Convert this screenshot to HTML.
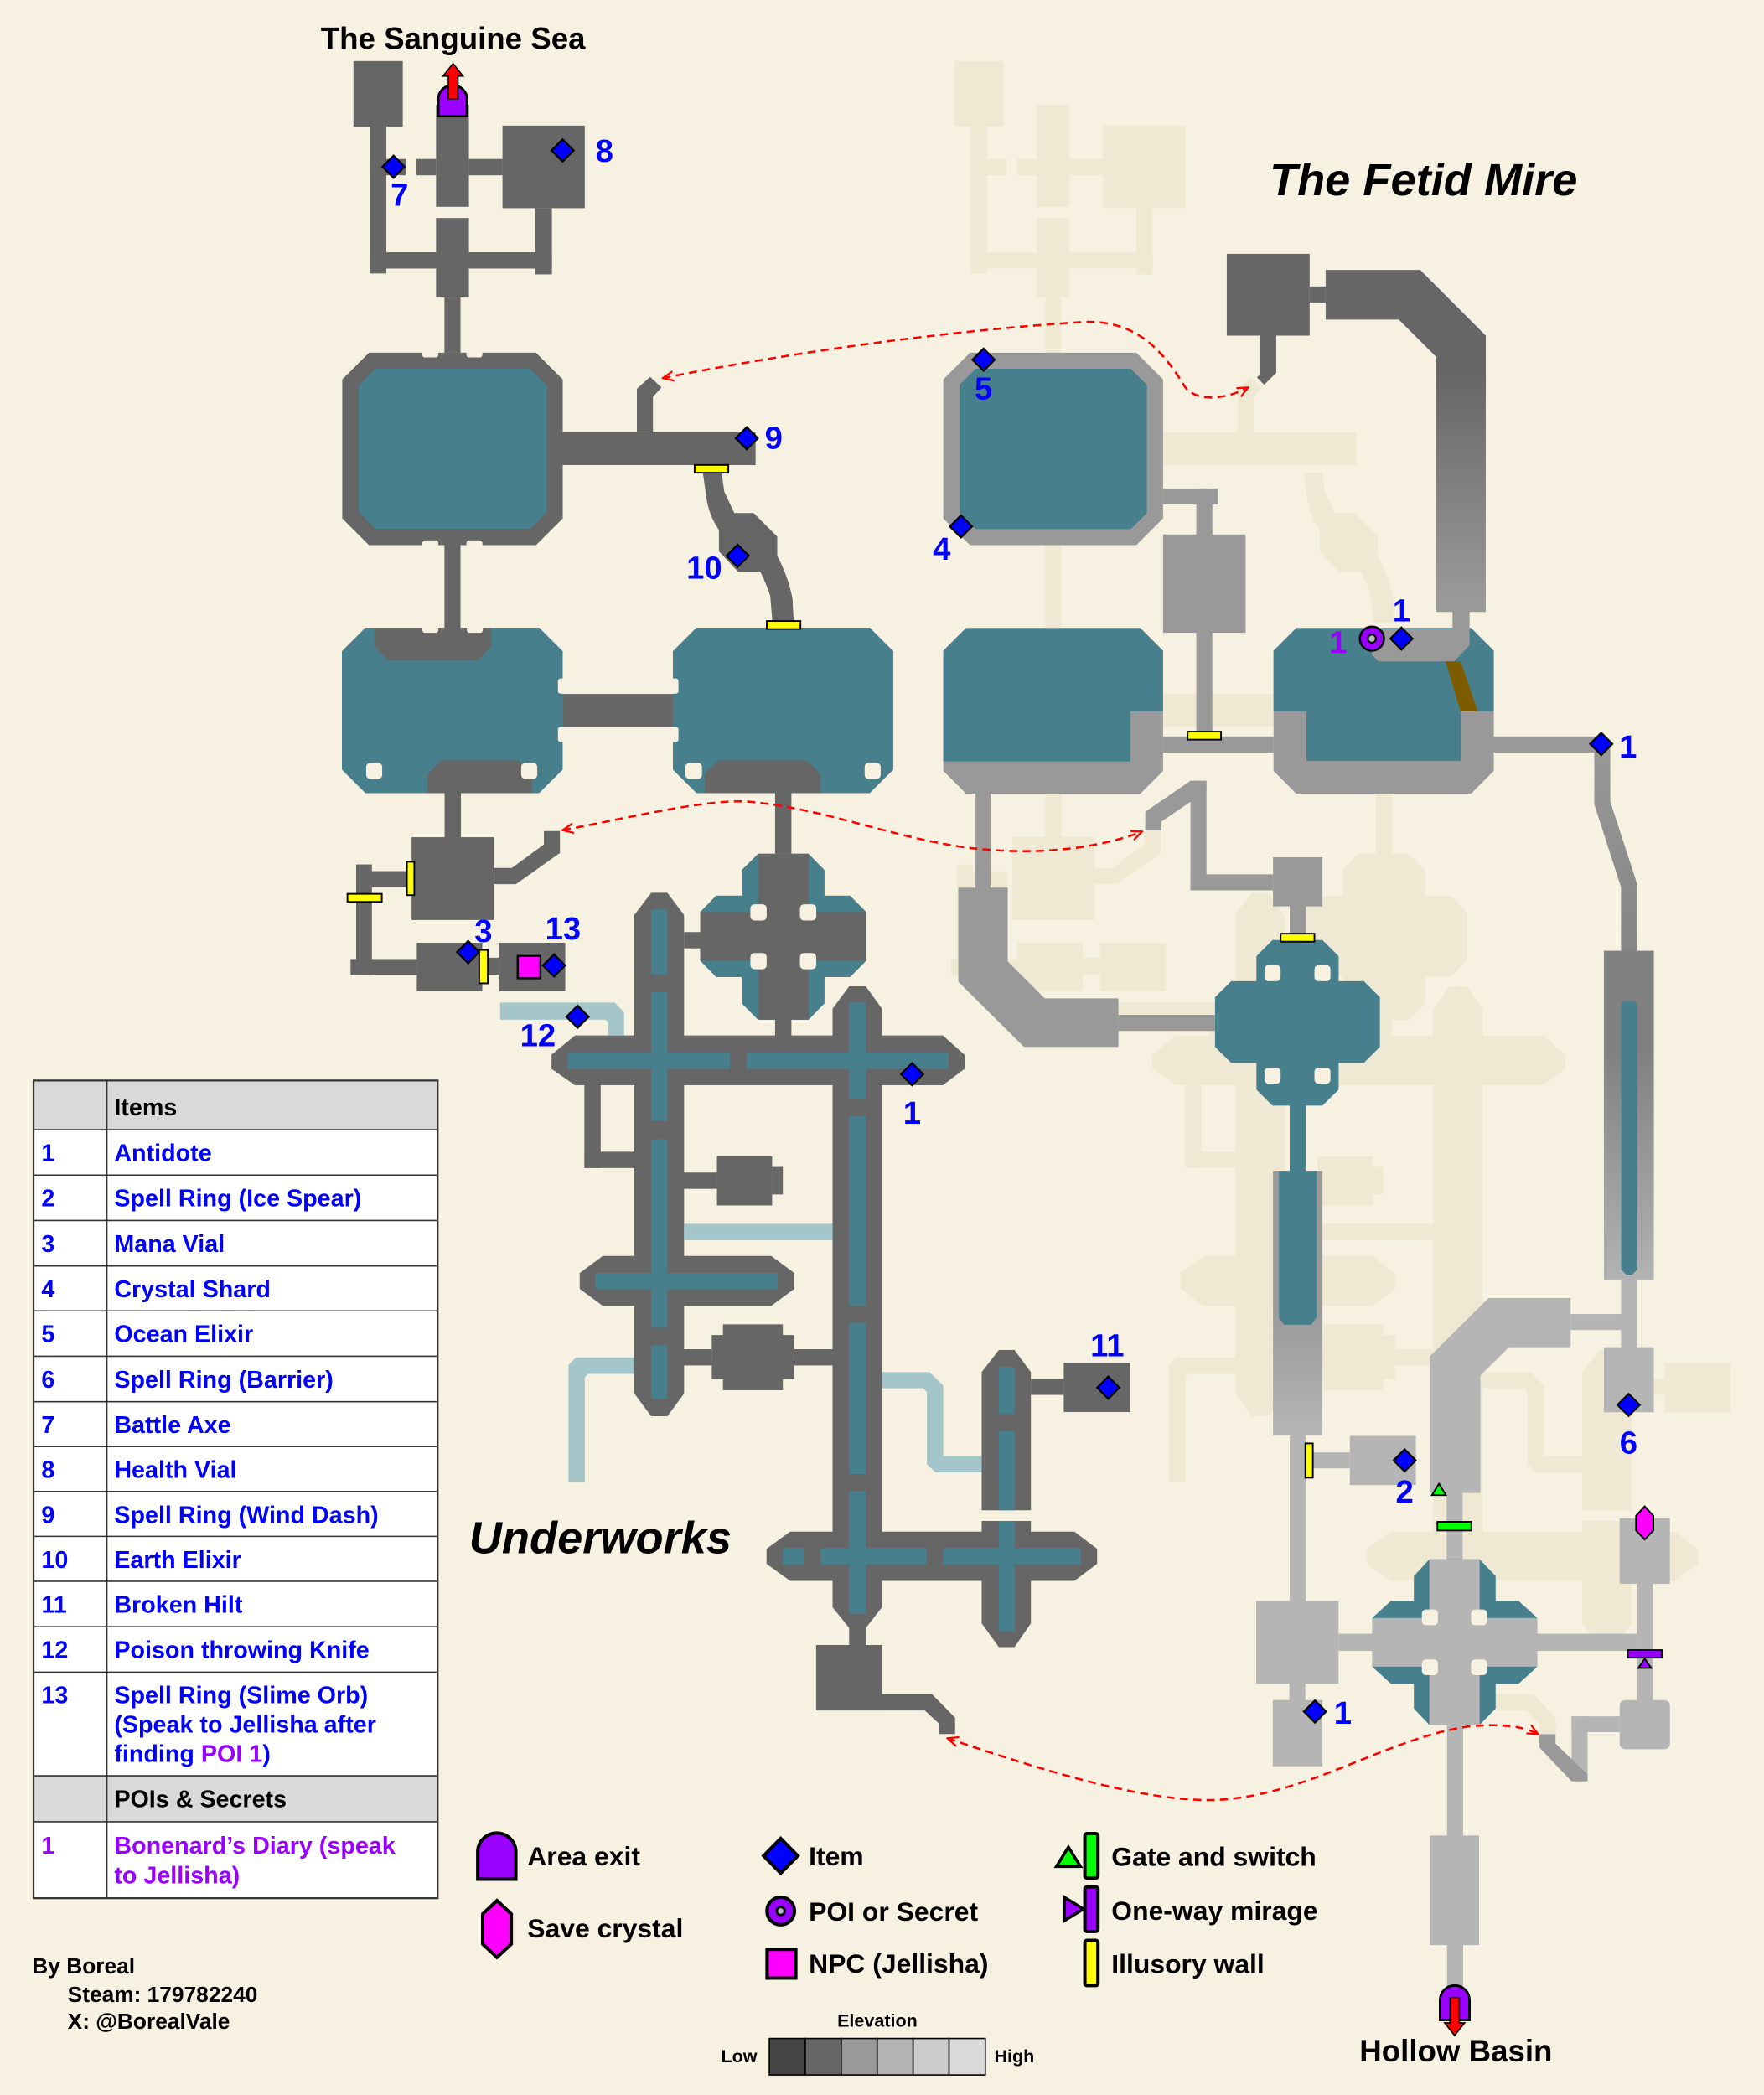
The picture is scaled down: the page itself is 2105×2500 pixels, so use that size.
<!DOCTYPE html>
<html><head><meta charset="utf-8"><style>html,body{margin:0;padding:0;background:#f7f1e1;}svg{display:block}</style></head>
<body>
<svg xmlns="http://www.w3.org/2000/svg" xmlns:xlink="http://www.w3.org/1999/xlink" width="2105" height="2500" viewBox="0 0 1320 1568" preserveAspectRatio="none" font-family="'Liberation Sans', Arial, sans-serif">
<defs>
<linearGradient id="gL" gradientUnits="userSpaceOnUse" x1="0" y1="202" x2="0" y2="458"><stop offset="0.3" stop-color="#666"/><stop offset="0.95" stop-color="#999"/></linearGradient>
<linearGradient id="gT" gradientUnits="userSpaceOnUse" x1="0" y1="711" x2="0" y2="958"><stop offset="0.3" stop-color="#808080"/><stop offset="1" stop-color="#b3b3b3"/></linearGradient>
<linearGradient id="gR" gradientUnits="userSpaceOnUse" x1="0" y1="557" x2="0" y2="711"><stop offset="0" stop-color="#999"/><stop offset="1" stop-color="#858585"/></linearGradient>
<linearGradient id="gC" gradientUnits="userSpaceOnUse" x1="0" y1="980" x2="0" y2="1074"><stop offset="0" stop-color="#999"/><stop offset="1" stop-color="#b5b5b5"/></linearGradient>
<marker id="ah" viewBox="0 0 10 10" refX="9" refY="5" markerWidth="9" markerHeight="9" orient="auto-start-reverse" markerUnits="userSpaceOnUse"><path d="M0,1 L9,5 L0,9" fill="none" stroke="#f00" stroke-width="1.6"/></marker>
<g id="L">
<rect x="264.5" y="45.7" width="36.9" height="49"/>
<rect x="276.8" y="94.7" width="12.3" height="110"/>
<rect x="276.8" y="188.8" width="136.2" height="12.2"/>
<rect x="400.7" y="155.8" width="12.3" height="49.6"/>
<rect x="276.8" y="119" width="26.7" height="12.2"/>
<rect x="326.3" y="78.4" width="24.6" height="76.4"/>
<rect x="311.6" y="119" width="14.7" height="12.2"/>
<rect x="350.9" y="119" width="25.1" height="12.2"/>
<rect x="376" y="94" width="61.6" height="61.8"/>
<rect x="326.3" y="163.2" width="24.6" height="59.5"/>
<rect x="332.6" y="222.7" width="12" height="41.3"/>
<polygon points="276.1,264 401.1,264 421.1,284 421.1,388 401.1,408 276.1,408 256.1,388 256.1,284"/>
<rect x="421" y="323.5" width="144.4" height="24.6"/>
<rect x="476.6" y="291" width="12" height="32.5"/>
<polygon points="476.6,291 486.5,282 495,290 488.6,297"/>
<path d="M526,354 L540,354 L542,368 L549.5,384 L564,384 L581.6,401.6 L581.6,416 Q590,432 593,448 L594,466 L578,466 L576.4,446 Q573,436 569,428 L552.4,428 L538,412.7 L538,396.7 Q530,385 528.4,371 Z"/>
<rect x="332.6" y="408" width="12" height="62"/>
<polygon points="273.5,469.8 403.4,469.8 421,487.4 421,576 403.4,593.6 273.5,593.6 255.9,576 255.9,487.4"/>
<polygon points="521.2,469.8 650.8,469.8 668.4,487.4 668.4,576 650.8,593.6 521.2,593.6 503.6,576 503.6,487.4"/>
<rect x="421" y="519.4" width="82.6" height="24.6"/>
<rect x="332.7" y="593.6" width="12.2" height="33"/>
<rect x="308" y="626.6" width="61.5" height="62"/>
<rect x="266.5" y="652" width="38" height="12"/>
<rect x="266.5" y="647" width="11.8" height="82.6"/>
<rect x="262.3" y="717.8" width="49.6" height="11.8"/>
<rect x="311.9" y="705.6" width="49" height="36.2"/>
<rect x="360.9" y="716.8" width="12.8" height="12.8"/>
<rect x="373.7" y="705.6" width="49.3" height="36.2"/>
<polygon points="369.5,649.6 383,649.6 407,632 407,622 419,622 419,638.4 386,661.8 369.5,661.8"/>
<rect x="580" y="593.6" width="12.2" height="45.4"/>
<polygon points="567.3,639 605,639 616.9,651.2 616.9,670.4 636.1,670.4 648.2,682.6 648.2,719 636.1,731.2 616.9,731.2 616.9,751 605,763.2 567.3,763.2 555.1,751 555.1,731.2 535.9,731.2 524,719 524,682.6 535.9,670.4 555.1,670.4 555.1,651.2"/>
<rect x="580" y="763" width="12.2" height="12.5"/>
<rect x="511.9" y="697.6" width="12.1" height="12.2"/>
<polygon points="487.3,668.2 499.4,668.2 511.9,684.8 511.9,1043 499.4,1060 487.3,1060 474.7,1043 474.7,684.8"/>
<polygon points="430.3,775 705.5,775 721.8,789.4 721.8,800 705.5,812.2 430.3,812.2 412.7,800 412.7,789.4"/>
<polygon points="635.4,738.2 647.9,738.2 660,755 660,1203 647.9,1218.4 635.4,1218.4 623,1203 623,755"/>
<rect x="437.3" y="812" width="12.2" height="62.2"/>
<rect x="437.3" y="862" width="37.7" height="12.2"/>
<rect x="536.5" y="865.4" width="41.3" height="36.8"/>
<rect x="577.8" y="873.4" width="8" height="20.6"/>
<rect x="511.5" y="877.6" width="25" height="12.2"/>
<polygon points="451.1,940 577.1,940 594.4,952.8 594.4,964.6 577.1,977.4 451.1,977.4 433.8,964.6 433.8,952.8"/>
<rect x="541" y="991.2" width="44.8" height="49.3"/>
<rect x="532.6" y="999.2" width="61.8" height="33"/>
<rect x="511.5" y="1009.8" width="21.1" height="12.2"/>
<rect x="594.4" y="1009.8" width="28.8" height="12.2"/>
<rect x="635.4" y="1218" width="12.5" height="13.5"/>
<rect x="610.7" y="1231.2" width="49.3" height="49"/>
<polygon points="660,1268 697.4,1268 714.7,1285.6 714.7,1297.8 702.6,1297.8 702.6,1290 692,1280.2 660,1280.2"/>
<polygon points="591.2,1146.4 804,1146.4 821,1159.2 821,1170.4 804,1183.2 591.2,1183.2 573.6,1170.4 573.6,1159.2"/>
<polygon points="747.4,1010.4 759.2,1010.4 771.4,1027 771.4,1130.4 734.6,1130.4 734.6,1027"/>
<polygon points="734.6,1138.4 771.4,1138.4 771.4,1215 759.2,1232.8 747.4,1232.8 734.6,1215"/>
<rect x="796" y="1020" width="49.6" height="36.8"/>
<rect x="771.4" y="1032" width="24.6" height="12"/>
</g>
<g id="P">
<polygon points="374.3,750.4 460,750.4 467,757.4 467,775 455,775 455,765 453,763.2 374.3,763.2"/>
<rect x="511.9" y="916" width="111" height="12.2"/>
<polygon points="431,1016 474.7,1016 474.7,1028.3 440,1028.3 437.6,1031 437.6,1109 425.4,1109 425.4,1021.6"/>
<polygon points="660,1027 695.6,1027 705.8,1037 705.8,1089.8 734.6,1089.8 734.6,1102 700,1102 693.6,1096 693.6,1042 691,1039 660,1039"/>
</g>
</defs>

<rect x="0" y="0" width="1320" height="1568" fill="#f7f1e1"/>

<use xlink:href="#L" href="#L" fill="#efe8d2" transform="translate(449.5,0)"/>
<use xlink:href="#P" href="#P" fill="#efe8d2" transform="translate(449.5,0)"/>

<use xlink:href="#L" href="#L" fill="#666666"/>
<use xlink:href="#P" href="#P" fill="#a4c5ca"/>

<g fill="#477f8c">
<polygon points="281,275.8 396.5,275.8 409.1,288.4 409.1,383.2 396.5,395.8 281,395.8 268.4,383.2 268.4,288.4"/>
<polygon points="273.5,469.8 403.4,469.8 421,487.4 421,576 403.4,593.6 273.5,593.6 255.9,576 255.9,487.4"/>
<polygon points="521.2,469.8 650.8,469.8 668.4,487.4 668.4,576 650.8,593.6 521.2,593.6 503.6,576 503.6,487.4"/>
<polygon points="567.3,639 605,639 616.9,651.2 616.9,670.4 636.1,670.4 648.2,682.6 648.2,719 636.1,731.2 616.9,731.2 616.9,751 605,763.2 567.3,763.2 555.1,751 555.1,731.2 535.9,731.2 524,719 524,682.6 535.9,670.4 555.1,670.4 555.1,651.2"/>
<rect x="487.3" y="680.3" width="12.1" height="49.3"/>
<rect x="487.3" y="742.4" width="12.1" height="96.6"/>
<rect x="487.3" y="852.6" width="12.1" height="141.2"/>
<rect x="487.3" y="1006.6" width="12.1" height="40.6"/>
<rect x="424.9" y="787.8" width="121.2" height="12.2"/>
<rect x="558.6" y="787.8" width="151.1" height="12.2"/>
<rect x="635.4" y="750.4" width="12.5" height="72.3"/>
<rect x="635.4" y="835.4" width="12.5" height="142"/>
<rect x="635.4" y="990" width="12.5" height="113.2"/>
<rect x="635.4" y="1116" width="12.5" height="92"/>
<rect x="445.6" y="952.8" width="136.4" height="12.2"/>
<rect x="585.8" y="1158.6" width="16.2" height="12.4"/>
<rect x="614.2" y="1158.6" width="79.1" height="12.4"/>
<rect x="705.8" y="1158.6" width="103" height="12.4"/>
<rect x="747.4" y="1023" width="11.8" height="35.4"/>
<rect x="747.4" y="1071.2" width="11.8" height="59.2"/>
<rect x="747.4" y="1138.4" width="11.8" height="82.6"/>
</g>
<g fill="#666666">
<polygon points="280.5,469.8 367.6,469.8 367.6,484 357.6,494.4 290.5,494.4 280.5,484"/>
<polygon points="331,569 388,569 398,579 398,593.6 320,593.6 320,579"/>
<polygon points="538,569 603,569 613.7,579 613.7,593.6 527.3,593.6 527.3,579"/>
<rect x="567.3" y="639" width="37.7" height="124.2"/>
<rect x="524" y="682.6" width="124.2" height="36.4"/>
</g>
<g fill="#f7f1e1">
<rect x="316" y="262" width="12" height="5.5" rx="2"/><rect x="349" y="262" width="12" height="5.5" rx="2"/>
<rect x="316" y="404.5" width="12" height="5.5" rx="2"/><rect x="349" y="404.5" width="12" height="5.5" rx="2"/>
<rect x="316" y="468" width="12" height="5.6" rx="2"/><rect x="349.3" y="468" width="12" height="5.6" rx="2"/>
<rect x="417.5" y="507.8" width="7" height="11.4" rx="2"/><rect x="417.5" y="544" width="7" height="11.4" rx="2"/>
<rect x="500.4" y="507.8" width="7.3" height="11.4" rx="2"/><rect x="500.4" y="544" width="7.3" height="11.4" rx="2"/>
<rect x="274" y="571" width="12" height="12" rx="3"/><rect x="390" y="571" width="12" height="12" rx="3"/>
<rect x="512.9" y="571" width="12.4" height="12" rx="3"/><rect x="647" y="571" width="12" height="12" rx="3"/>
<rect x="561.5" y="676.8" width="12.2" height="12.2" rx="3"/><rect x="598.6" y="676.8" width="12.2" height="12.2" rx="3"/>
<rect x="561.5" y="713.3" width="12.2" height="12.1" rx="3"/><rect x="598.6" y="713.3" width="12.2" height="12.1" rx="3"/>
</g>

<rect x="918" y="190" width="62" height="61.2" fill="#666"/>
<rect x="980" y="214.4" width="12" height="12" fill="#666"/>
<polygon points="992,202 1062.8,202 1111.8,251.2 1111.8,458 1074.8,458 1074.8,267.2 1046.7,239.2 992,239.2" fill="url(#gL)"/>
<polygon points="942.6,251.2 955,251.2 955,279 946,288 940.5,282.5 942.6,280.5" fill="#666"/>
<polygon points="725.9,264 850.3,264 870.3,284 870.3,388 850.3,408 725.9,408 705.9,388 705.9,284" fill="#999"/>
<polygon points="730,276 846.2,276 858.2,288 858.2,384 846.2,396 730,396 718,384 718,288" fill="#477f8c"/>
<g fill="#999">
<rect x="870.3" y="365.6" width="41" height="12"/>
<rect x="895.2" y="365.6" width="12" height="35"/>
<rect x="870.3" y="400" width="61.8" height="73.6"/>
<rect x="895.2" y="473" width="12" height="80"/>
<rect x="870.3" y="551.2" width="82.7" height="12"/>
<polygon points="722.9,470 853.3,470 870.3,487 870.3,577 853.3,594 722.9,594 705.9,577 705.9,487"/>
<polygon points="970,470 1100.8,470 1117.8,487 1117.8,577 1100.8,594 970,594 953,577 953,487"/>
<rect x="1117.8" y="551.2" width="80.4" height="12"/>
<rect x="730" y="593" width="11.2" height="72"/>
<polygon points="717.1,664.4 754.1,664.4 754.1,719.6 781.8,747.2 836.9,747.2 836.9,783.5 766.2,783.5 717.1,734.8"/>
<rect x="836.9" y="759.6" width="72.3" height="12"/>
<rect x="890.8" y="584.4" width="12" height="82"/>
<rect x="890.8" y="654.4" width="61.8" height="12"/>
<polygon points="857,607.6 890.8,584.4 902.8,584.4 902.8,592 869,615 869,621.6 857,621.6"/>
<rect x="952.6" y="641.6" width="37" height="36.8"/>
<rect x="965.1" y="678" width="12.1" height="26"/>
</g>
<polygon points="722.9,470 853.3,470 870.3,487 870.3,532.4 845.8,532.4 845.8,570 705.9,570 705.9,487" fill="#477f8c"/>
<polygon points="970,470 1100.8,470 1117.8,487 1117.8,532.4 1093,532.4 1093,569.6 977.6,569.6 977.6,532.4 953,532.4 953,487" fill="#477f8c"/>
<polygon points="1086.9,457 1099.7,457 1099.7,483 1088,495 1031.4,495 1026.6,490 1026.6,471 1086.9,471" fill="#999"/>
<polygon points="1081.7,495 1093,495 1105.8,532.4 1093,532.4" fill="#7d5c00"/>
<polygon points="1193,557 1205,557 1205,600 1225.2,662 1225.2,712 1213,712 1213,664 1193,602" fill="url(#gR)"/>
<rect x="1200.2" y="711.6" width="37.4" height="246.7" fill="url(#gT)"/>
<polygon points="1215,749.2 1223,749.2 1225.2,752 1225.2,950 1221.5,954 1216.8,954 1213.1,950 1213.1,752" fill="#477f8c"/>
<g fill="#b5b5b5">
<rect x="1213" y="958" width="12.2" height="51"/>
<rect x="1175.3" y="983.5" width="38" height="12"/>
<rect x="1200.2" y="1008.3" width="37.4" height="48.7"/>
<polygon points="1175.3,971.5 1113.8,971.5 1070,1015.1 1070,1117.5 1107.8,1117.5 1107.8,1029.5 1129.1,1008.3 1175.3,1008.3"/>
<rect x="1082.5" y="1117" width="12" height="51"/>
<rect x="965.1" y="1073" width="12.1" height="126"/>
<rect x="982.4" y="1087" width="27.7" height="12"/>
<rect x="1010.1" y="1074.7" width="49.4" height="36.8"/>
<rect x="940" y="1198.2" width="61.6" height="62"/>
<rect x="964.8" y="1260" width="12" height="13"/>
<rect x="952.4" y="1272.4" width="37.2" height="49.6"/>
<rect x="1001.6" y="1222.8" width="25.2" height="12.8"/>
<rect x="1150.4" y="1222.8" width="74.4" height="12.8"/>
<rect x="1224.8" y="1185" width="12" height="89"/>
<rect x="1212" y="1136.4" width="37.6" height="49"/>
<rect x="1212" y="1272.4" width="37.6" height="36.8" rx="4"/>
<rect x="1176" y="1284.6" width="36" height="11.8"/>
<rect x="1176" y="1284.6" width="12" height="48.6"/>
<rect x="1082.8" y="1290" width="12" height="84"/>
<rect x="1070" y="1373.8" width="36.8" height="82"/>
<rect x="1082.8" y="1455" width="12" height="33"/>
</g>
<polygon points="1152,1298 1164,1298 1164,1305 1188,1328 1188,1333.2 1176,1333.2 1152,1308" fill="#999"/>
<polygon points="952.2,703.6 989.6,703.6 1001.7,715.6 1001.7,734.4 1020.6,734.4 1032.6,746.4 1032.6,783.5 1020.6,795.5 1001.7,795.5 1001.7,815.5 989.6,827.5 952.2,827.5 940.2,815.5 940.2,795.5 921.3,795.5 909.2,783.5 909.2,746.4 921.3,734.4 940.2,734.4 940.2,715.6" fill="#477f8c"/>
<rect x="965.1" y="827" width="12.1" height="50" fill="#477f8c"/>
<rect x="952.6" y="876.3" width="37" height="198" fill="url(#gC)"/>
<polygon points="957,876.3 985.2,876.3 985.2,986 981,991.5 961,991.5 957,986" fill="#477f8c"/>
<polygon points="1069.6,1167.1 1107.2,1167.1 1119.2,1179.6 1119.2,1198.2 1136.4,1198.2 1150.4,1211 1150.4,1247.4 1136.4,1260.2 1119.2,1260.2 1119.2,1278.8 1107.2,1291 1069.6,1291 1058,1278.8 1058,1260.2 1040.8,1260.2 1026.8,1247.4 1026.8,1211 1040.8,1198.2 1058,1198.2 1058,1179.6" fill="#477f8c"/>
<rect x="1069.6" y="1167.1" width="37.6" height="123.9" fill="#b5b5b5"/>
<rect x="1026.8" y="1211" width="123.6" height="36.4" fill="#b5b5b5"/>
<g fill="#f7f1e1">
<rect x="946.2" y="722.4" width="12.1" height="12" rx="3"/><rect x="983.6" y="722.4" width="12" height="12" rx="3"/>
<rect x="946.2" y="799.1" width="12.1" height="12" rx="3"/><rect x="983.6" y="799.1" width="12" height="12" rx="3"/>
<rect x="1064" y="1204.6" width="12" height="11.8" rx="3"/><rect x="1100.8" y="1204.6" width="12" height="11.8" rx="3"/>
<rect x="1064" y="1242" width="12" height="11.8" rx="3"/><rect x="1100.8" y="1242" width="12" height="11.8" rx="3"/>
</g>

<g fill="#ffff00" stroke="#000" stroke-width="1.2">
<rect x="519.8" y="348" width="25.2" height="5.8"/>
<rect x="573.8" y="464.8" width="25.2" height="6"/>
<rect x="304.5" y="645" width="5.5" height="25"/>
<rect x="260" y="669" width="25.7" height="6"/>
<rect x="358.6" y="711" width="6.4" height="25"/>
<rect x="888.7" y="547.6" width="25" height="6"/>
<rect x="958.3" y="698.8" width="25.3" height="6"/>
<rect x="976.8" y="1080.3" width="5.6" height="25.7"/>
</g>
<polygon points="1071.5,1119 1082,1119 1076.8,1110.5" fill="#00ff00" stroke="#000" stroke-width="1.2"/>
<rect x="1075.6" y="1139" width="25.4" height="6.5" fill="#00ff00" stroke="#000" stroke-width="1.2"/>
<rect x="1218" y="1235" width="25.6" height="5.7" fill="#9900ff" stroke="#000" stroke-width="1.2"/>
<polygon points="1226,1248.4 1235.6,1248.4 1230.8,1241.4" fill="#9900ff" stroke="#000" stroke-width="1.2"/>
<polygon points="1230.7,1127.5 1237.2,1134.5 1237.2,1145.5 1230.7,1152.2 1224.3,1145.5 1224.3,1134.5" fill="#ff00ff" stroke="#000" stroke-width="1.3"/>

<path d="M328,87 L328,73 A10.8,10.8 0 0 1 349.4,73 L349.4,87 Z" fill="#9900ff" stroke="#000" stroke-width="1.8"/>
<path d="M335.5,74 L335.5,57 L331.5,57 L339,47.5 L346.5,57 L342.7,57 L342.7,74 Z" fill="#ff0000" stroke="#000" stroke-width="1"/>
<path d="M1077.6,1511.8 L1077.6,1497 A11,11 0 0 1 1099.6,1497 L1099.6,1511.8 Z" fill="#9900ff" stroke="#000" stroke-width="1.8"/>
<path d="M1085,1495 L1085,1514 L1081,1514 L1088.5,1523.5 L1096,1514 L1092,1514 L1092,1495 Z" fill="#ff0000" stroke="#000" stroke-width="1"/>

<rect x="387.4" y="715.5" width="17" height="16.7" fill="#ff00ff" stroke="#000" stroke-width="1.5"/>
<circle cx="1026.6" cy="478" r="9" fill="#9900ff" stroke="#000" stroke-width="1.6"/>
<circle cx="1026.6" cy="478" r="3" fill="#bbb" stroke="#000" stroke-width="1.3"/>

<g fill="#0000ff" stroke="#000" stroke-width="1.4">
<polygon points="294.5,116.5 302.8,124.8 294.5,133.1 286.2,124.8"/>
<polygon points="421,104.3 429.3,112.6 421,120.9 412.7,112.6"/>
<polygon points="558.8,319.7 567.1,328 558.8,336.3 550.5,328"/>
<polygon points="552,407.7 560.3,416 552,424.3 543.7,416"/>
<polygon points="736,260.9 744.3,269.2 736,277.5 727.7,269.2"/>
<polygon points="719.1,385.7 727.4,394 719.1,402.3 710.8,394"/>
<polygon points="1048.7,469.7 1057,478 1048.7,486.3 1040.4,478"/>
<polygon points="1198.2,548.5 1206.5,556.8 1198.2,565.1 1189.9,556.8"/>
<polygon points="350.3,704.3 358.6,712.6 350.3,720.9 342,712.6"/>
<polygon points="414.6,714.3 422.9,722.6 414.6,730.9 406.3,722.6"/>
<polygon points="432.2,752.7 440.5,761 432.2,769.3 423.9,761"/>
<polygon points="682.5,795.7 690.8,804 682.5,812.3 674.2,804"/>
<polygon points="829.3,1030.3 837.6,1038.6 829.3,1046.9 821,1038.6"/>
<polygon points="1218.7,1043.2 1227,1051.5 1218.7,1059.8 1210.4,1051.5"/>
<polygon points="1051.1,1084.7 1059.4,1093 1051.1,1101.3 1042.8,1093"/>
<polygon points="984,1272.7 992.3,1281 984,1289.3 975.7,1281"/>
</g>

<g fill="#0000ff" font-weight="bold" font-size="24" text-anchor="middle">
<text x="299" y="154">7</text>
<text x="452.3" y="121">8</text>
<text x="579" y="336">9</text>
<text x="527" y="433">10</text>
<text x="736" y="299">5</text>
<text x="704.7" y="419">4</text>
<text x="1048.7" y="465">1</text>
<text x="1218.3" y="567">1</text>
<text x="361.8" y="705">3</text>
<text x="421.3" y="703">13</text>
<text x="402.5" y="783">12</text>
<text x="682.5" y="841">1</text>
<text x="828.6" y="1015">11</text>
<text x="1218.7" y="1088">6</text>
<text x="1051.1" y="1124.5">2</text>
<text x="1004.8" y="1290">1</text>
</g>
<text x="1001.3" y="489" fill="#9900ff" font-weight="bold" font-size="24" text-anchor="middle">1</text>

<g fill="none" stroke="#ff0000" stroke-width="1.6" stroke-dasharray="6 4" marker-start="url(#ah)" marker-end="url(#ah)">
<path d="M496,283 C580,266 700,248 810,241 C850,239 870,262 887,290 C895,300 915,300 934,290"/>
<path d="M421,621.4 C480,610 530,598 560,600 C620,605 680,632 740,636 C790,640 830,632 854.6,622.4"/>
<path d="M709,1301 C780,1325 860,1350 913,1347 C980,1343 1040,1300 1100,1292 C1125,1290 1140,1292 1151,1298"/>
</g>

<text x="240" y="36.8" font-size="23" font-weight="bold" fill="#000">The Sanguine Sea</text>
<text x="950" y="146" font-size="34" font-weight="bold" font-style="italic" fill="#000">The Fetid Mire</text>
<text x="351" y="1162.4" font-size="34" font-weight="bold" font-style="italic" fill="#000">Underworks</text>
<text x="1017.3" y="1542.8" font-size="23" font-weight="bold" fill="#000">Hollow Basin</text>

<rect x="25.1" y="808.7" width="302.4" height="612" fill="#fff"/>
<rect x="25.1" y="808.7" width="302.4" height="36.8" fill="#d9d9d9"/>
<rect x="25.1" y="1329.1" width="302.4" height="34.4" fill="#d9d9d9"/>
<g stroke="#333" stroke-width="1">
<line x1="80" y1="808.7" x2="80" y2="1420.7"/>
<line x1="25.1" y1="845.5" x2="327.5" y2="845.5"/>
<line x1="25.1" y1="879.5" x2="327.5" y2="879.5"/>
<line x1="25.1" y1="913.5" x2="327.5" y2="913.5"/>
<line x1="25.1" y1="947.5" x2="327.5" y2="947.5"/>
<line x1="25.1" y1="981.1" x2="327.5" y2="981.1"/>
<line x1="25.1" y1="1015.1" x2="327.5" y2="1015.1"/>
<line x1="25.1" y1="1049.1" x2="327.5" y2="1049.1"/>
<line x1="25.1" y1="1082.7" x2="327.5" y2="1082.7"/>
<line x1="25.1" y1="1116.3" x2="327.5" y2="1116.3"/>
<line x1="25.1" y1="1149.9" x2="327.5" y2="1149.9"/>
<line x1="25.1" y1="1183.5" x2="327.5" y2="1183.5"/>
<line x1="25.1" y1="1217.5" x2="327.5" y2="1217.5"/>
<line x1="25.1" y1="1251.5" x2="327.5" y2="1251.5"/>
<line x1="25.1" y1="1329.1" x2="327.5" y2="1329.1"/>
<line x1="25.1" y1="1363.5" x2="327.5" y2="1363.5"/>
</g>
<rect x="25.1" y="808.7" width="302.4" height="612" fill="none" stroke="#333" stroke-width="1.4"/>
<g font-weight="bold" font-size="18">
<text x="85.5" y="834.7" fill="#000">Items</text>
<text x="85.5" y="1352.7" fill="#000">POIs &amp; Secrets</text>
<g fill="#0000ff">
<text x="31" y="869">1</text><text x="85.5" y="869">Antidote</text>
<text x="31" y="903">2</text><text x="85.5" y="903">Spell Ring (Ice Spear)</text>
<text x="31" y="937">3</text><text x="85.5" y="937">Mana Vial</text>
<text x="31" y="971">4</text><text x="85.5" y="971">Crystal Shard</text>
<text x="31" y="1004.6">5</text><text x="85.5" y="1004.6">Ocean Elixir</text>
<text x="31" y="1038.6">6</text><text x="85.5" y="1038.6">Spell Ring (Barrier)</text>
<text x="31" y="1072.6">7</text><text x="85.5" y="1072.6">Battle Axe</text>
<text x="31" y="1106.2">8</text><text x="85.5" y="1106.2">Health Vial</text>
<text x="31" y="1139.8">9</text><text x="85.5" y="1139.8">Spell Ring (Wind Dash)</text>
<text x="31" y="1173.4">10</text><text x="85.5" y="1173.4">Earth Elixir</text>
<text x="31" y="1207">11</text><text x="85.5" y="1207">Broken Hilt</text>
<text x="31" y="1241">12</text><text x="85.5" y="1241">Poison throwing Knife</text>
<text x="31" y="1274.7">13</text><text x="85.5" y="1274.7">Spell Ring (Slime Orb)</text>
<text x="85.5" y="1296.7">(Speak to Jellisha after</text>
<text x="85.5" y="1318.7">finding <tspan fill="#9900ff">POI 1</tspan>)</text>
</g>
<g fill="#9900ff">
<text x="31" y="1387.5">1</text>
<text x="85.5" y="1387.5">Bonenard’s Diary (speak</text>
<text x="85.5" y="1409.5">to Jellisha)</text>
</g>
</g>

<path d="M357.5,1406.5 L357.5,1385 A14.3,14.3 0 0 1 386,1385 L386,1406.5 Z" fill="#9900ff" stroke="#000" stroke-width="2.5"/>
<polygon points="371.9,1422.5 382.6,1432.5 382.6,1455 371.9,1465 361.2,1455 361.2,1432.5" fill="#ff00ff" stroke="#000" stroke-width="2.5"/>
<polygon points="584.2,1376 597,1389 584.2,1402 571.4,1389" fill="#0000ff" stroke="#000" stroke-width="2.5"/>
<circle cx="584.2" cy="1430.3" r="10.3" fill="#9900ff" stroke="#000" stroke-width="2.5"/>
<circle cx="584.2" cy="1430.3" r="3" fill="#bbb" stroke="#000" stroke-width="1.8"/>
<rect x="574" y="1459" width="21.5" height="21.5" fill="#ff00ff" stroke="#000" stroke-width="2.5"/>
<polygon points="790.5,1397 808.5,1397 799.5,1382.5" fill="#00ff00" stroke="#000" stroke-width="2.2"/>
<rect x="811.8" y="1372.3" width="9.8" height="33.3" rx="1.5" fill="#00ff00" stroke="#000" stroke-width="2.5"/>
<polygon points="796.5,1420 796.5,1437.5 810.8,1428.8" fill="#9900ff" stroke="#000" stroke-width="2.2"/>
<rect x="811.8" y="1412.3" width="9.8" height="33.3" rx="1.5" fill="#9900ff" stroke="#000" stroke-width="2.5"/>
<rect x="811.8" y="1452.3" width="9.8" height="33.8" rx="1.5" fill="#ffff00" stroke="#000" stroke-width="2.5"/>
<g font-weight="bold" font-size="20" fill="#000">
<text x="394.6" y="1396">Area exit</text>
<text x="394.6" y="1450">Save crystal</text>
<text x="605.2" y="1396">Item</text>
<text x="605.2" y="1437.5">POI or Secret</text>
<text x="605.2" y="1476.3">NPC (Jellisha)</text>
<text x="831.7" y="1396.6">Gate and switch</text>
<text x="831.7" y="1437">One-way mirage</text>
<text x="831.7" y="1476.6">Illusory wall</text>
</g>
<g font-weight="bold" font-size="13.5" fill="#000">
<text x="656.5" y="1517" text-anchor="middle">Elevation</text>
<text x="539.6" y="1543.5">Low</text>
<text x="744" y="1543.5">High</text>
</g>
<g stroke="#000" stroke-width="1">
<rect x="575.7" y="1525.7" width="26.9" height="27.3" fill="#444"/>
<rect x="602.6" y="1525.7" width="26.9" height="27.3" fill="#666"/>
<rect x="629.5" y="1525.7" width="26.9" height="27.3" fill="#999"/>
<rect x="656.4" y="1525.7" width="26.9" height="27.3" fill="#b3b3b3"/>
<rect x="683.3" y="1525.7" width="26.9" height="27.3" fill="#ccc"/>
<rect x="710.2" y="1525.7" width="27.1" height="27.3" fill="#d9d9d9"/>
</g>

<g font-weight="bold" font-size="16.5" fill="#000">
<text x="24" y="1477.2">By Boreal</text>
<text x="50.6" y="1498.3">Steam: 179782240</text>
<text x="50.6" y="1518.6">X: @BorealVale</text>
</g>
</svg>
</body></html>
